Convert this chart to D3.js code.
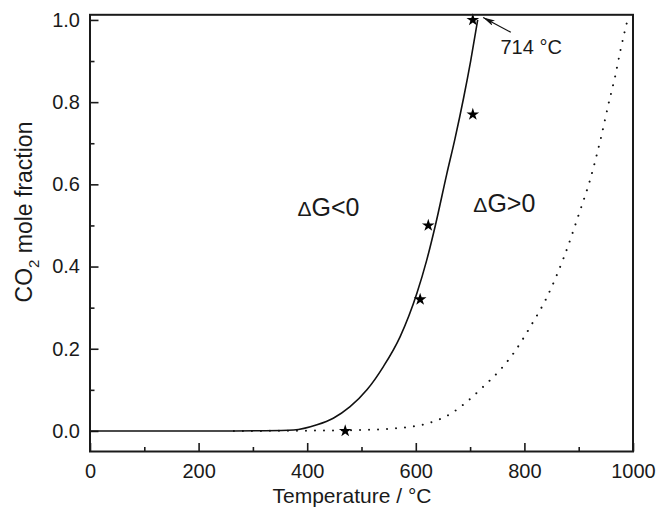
<!DOCTYPE html>
<html>
<head>
<meta charset="utf-8">
<script src="https://cdn.jsdelivr.net/npm/d3@7"></script>
<style>
  html, body { margin: 0; padding: 0; background: #fff; }
  svg text { font-family: "Liberation Sans", Arial, sans-serif; fill: #1a1a1a; }
</style>
</head>
<body>
<svg id="chart" width="658" height="510"></svg>
<script>
// Equilibrium CO2 mole fraction (solid) vs temperature
const eqTemp = [0, 265, 320, 375, 418, 448, 479, 510, 540, 571, 602, 620, 636, 657, 672, 688, 701, 714];
const eqFrac = [0, 0, 0.0005, 0.0024, 0.015, 0.031, 0.059, 0.10, 0.156, 0.229, 0.335, 0.415, 0.50, 0.625, 0.71, 0.81, 0.90, 1.0];

// Second (dotted) curve
const dotTemp = [265, 375, 491, 559, 626, 663, 694, 722, 755, 780, 811, 842, 872, 903, 921, 940, 958, 967, 977, 990];
const dotFrac = [0, 0.0005, 0.002, 0.006, 0.02, 0.041, 0.071, 0.105, 0.148, 0.189, 0.254, 0.327, 0.42, 0.538, 0.611, 0.708, 0.813, 0.862, 0.927, 1.0];

// Measured points (stars)
const starTemp = [470, 608, 623, 705, 705];
const starFrac = [0, 0.32, 0.5, 0.77, 1.0];

// Axis ticks
const xMajor = [0, 200, 400, 600, 800, 1000];
const xMinor = [100, 300, 500, 700, 900];
const yMajor = [0, 0.2, 0.4, 0.6, 0.8, 1.0];
const yMinor = [0.1, 0.3, 0.5, 0.7, 0.9];

// Annotations
const arrowFrom = [775, 0.97];
const arrowTo = [724, 1.006];
const tempLabel = "714 °C";
const tempLabelAt = [756, 0.916];
const regionLabels = [
  { sign: "<0", at: [382, 0.522] },
  { sign: ">0", at: [706, 0.532] }
];

const svg = d3.select("#chart");
const x = d3.scaleLinear().domain([0, 1000]).range([90, 633]);
const y = d3.scaleLinear().domain([-0.05, 1.0125]).range([451.5, 14.8]);

const defs = svg.append("defs");
defs.append("clipPath").attr("id", "plotclip")
  .append("rect")
  .attr("x", x(0)).attr("y", y(1.0125))
  .attr("width", x(1000) - x(0)).attr("height", y(-0.05) - y(1.0125));

// Axes with inward ticks
svg.append("g").attr("transform", `translate(0,${y(-0.05)})`)
  .call(d3.axisBottom(x).tickValues(xMajor).tickSize(-8.5).tickPadding(12).tickFormat(d3.format("d")));
svg.append("g").attr("transform", `translate(0,${y(-0.05)})`)
  .call(d3.axisBottom(x).tickValues(xMinor).tickSize(-4.5).tickFormat(""));
svg.append("g").attr("transform", `translate(${x(0)},0)`)
  .call(d3.axisLeft(y).tickValues(yMajor).tickSize(-8.5).tickPadding(10).tickFormat(d3.format(".1f")));
svg.append("g").attr("transform", `translate(${x(0)},0)`)
  .call(d3.axisLeft(y).tickValues(yMinor).tickSize(-4.5).tickFormat(""));

svg.selectAll(".domain").remove();
svg.selectAll(".tick line").attr("stroke", "#1a1a1a").attr("stroke-width", 1.6);
svg.selectAll(".tick text").attr("font-size", 20).attr("fill", "#1a1a1a")
  .style("font-family", '"Liberation Sans", Arial, sans-serif');

// Curves
const plot = svg.append("g").attr("clip-path", "url(#plotclip)");
const line = d3.line().x(d => x(d[0])).y(d => y(d[1])).curve(d3.curveMonotoneX);

plot.append("path")
  .datum(dotTemp.map((t, i) => [t, dotFrac[i]]))
  .attr("d", line)
  .attr("fill", "none").attr("stroke", "#111").attr("stroke-width", 2)
  .attr("stroke-linecap", "round").attr("stroke-dasharray", "0.01,9");

plot.append("path")
  .datum(eqTemp.map((t, i) => [t, eqFrac[i]]))
  .attr("d", line)
  .attr("fill", "none").attr("stroke", "#111").attr("stroke-width", 1.6);

// Stars
svg.append("g").selectAll("path")
  .data(starTemp.map((t, i) => [t, starFrac[i]]))
  .join("path")
  .attr("transform", d => `translate(${x(d[0])},${y(d[1])})`)
  .attr("d", d3.symbol(d3.symbolStar, 50))
  .attr("fill", "#000");

// Frame
svg.append("rect")
  .attr("x", x(0)).attr("y", y(1.0125))
  .attr("width", x(1000) - x(0)).attr("height", y(-0.05) - y(1.0125))
  .attr("fill", "none").attr("stroke", "#1a1a1a").attr("stroke-width", 2);

// Arrow annotation
defs.append("marker").attr("id", "head")
  .attr("viewBox", "0 0 12 6").attr("refX", 12).attr("refY", 3)
  .attr("markerWidth", 12).attr("markerHeight", 6).attr("markerUnits", "userSpaceOnUse")
  .attr("orient", "auto")
  .append("path").attr("d", "M0,0 L12,3 L0,6 L3,3 Z").attr("fill", "#111");
svg.append("line")
  .attr("x1", x(arrowFrom[0])).attr("y1", y(arrowFrom[1]))
  .attr("x2", x(arrowTo[0])).attr("y2", y(arrowTo[1]))
  .attr("stroke", "#111").attr("stroke-width", 1.2)
  .attr("marker-end", "url(#head)");
svg.append("text")
  .attr("x", x(tempLabelAt[0])).attr("y", y(tempLabelAt[1]))
  .attr("font-size", 20).text(tempLabel);

// Region labels
regionLabels.forEach(r => {
  const t = svg.append("text")
    .attr("x", x(r.at[0])).attr("y", y(r.at[1]))
    .attr("font-size", 25);
  t.append("tspan").attr("font-size", 21).text("\u0394");
  t.append("tspan").text("G" + r.sign);
});

// Axis titles
svg.append("text")
  .attr("x", 352).attr("y", 503)
  .attr("text-anchor", "middle").attr("font-size", 21)
  .text("Temperature / °C");

const yt = svg.append("text")
  .attr("transform", "translate(32,212) rotate(-90)")
  .attr("text-anchor", "middle").attr("font-size", 23);
yt.append("tspan").text("CO");
yt.append("tspan").attr("font-size", 15).attr("dy", 7).text("2");
yt.append("tspan").attr("dy", -7).text(" mole fraction");
</script>
</body>
</html>
